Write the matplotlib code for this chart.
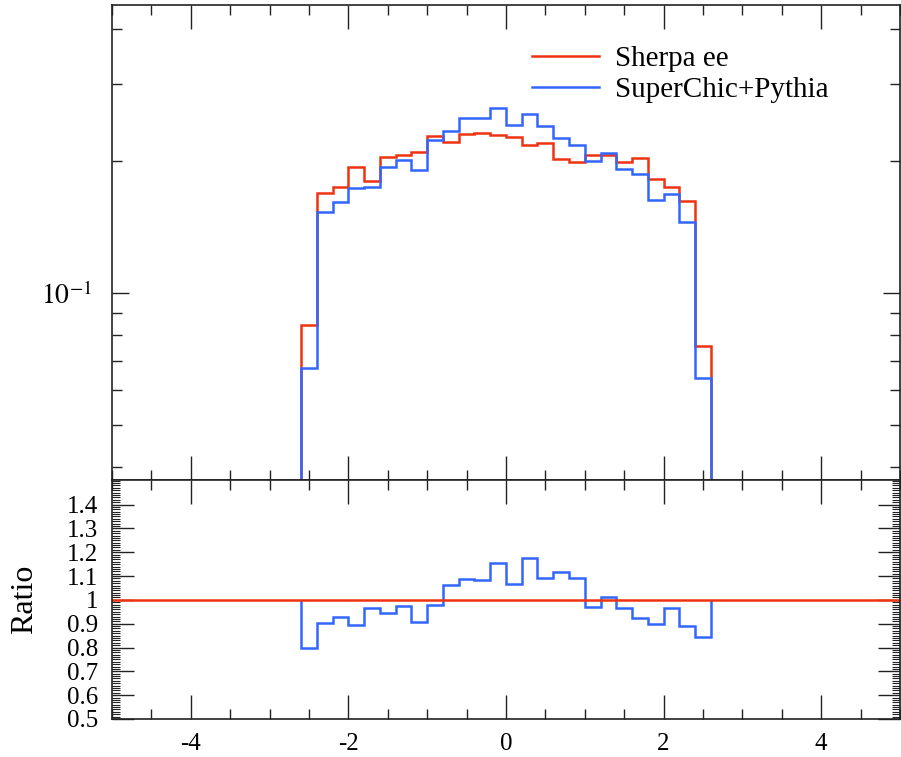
#!/usr/bin/env python3
"""
Rivet-style comparison: Sherpa ee vs SuperChic+Pythia, with ratio panel.
"""

import numpy as np
import matplotlib
matplotlib.use('Agg')
import matplotlib.pyplot as plt
from matplotlib.ticker import MultipleLocator, FixedLocator, FixedFormatter, NullFormatter

# bin edges: 26 bins of width 0.2 from -2.6 to 2.6
bin_edges = np.round(np.arange(-2.6, 2.6001, 0.2), 2)

sherpa_ee = [0.0845, 0.1694, 0.1743, 0.1943, 0.1805, 0.2048, 0.2063, 0.2102,
             0.2287, 0.2209, 0.2307, 0.2315, 0.2295, 0.2271, 0.2177, 0.2204,
             0.2020, 0.1994, 0.2066, 0.2066, 0.1994, 0.2030, 0.1818, 0.1743,
             0.1624, 0.0757]
superchic = [0.0675, 0.1530, 0.1616, 0.1739, 0.1742, 0.1939, 0.2011, 0.1909,
             0.2237, 0.2344, 0.2512, 0.2505, 0.2646, 0.2419, 0.2558, 0.2409,
             0.2258, 0.2173, 0.2006, 0.2087, 0.1922, 0.1872, 0.1634, 0.1680,
             0.1449, 0.0638]

labels = ['Sherpa ee', 'SuperChic+Pythia']
colors = ['#EE3311', '#3366FF']

plt.rcParams['font.family'] = ['Liberation Serif', 'DejaVu Serif']
plt.rcParams['mathtext.fontset'] = 'stix'

fig = plt.figure(figsize=(9.01, 7.57), dpi=100)
ax = fig.add_axes([0.1243, 0.3659, 0.8745, 0.6275])
axr = fig.add_axes([0.1243, 0.0502, 0.8745, 0.3157])

# main panel
for vals, lab, col in zip([sherpa_ee, superchic], labels, colors):
    ax.stairs(vals, bin_edges, baseline=1e-3, color=col, linewidth=1.8, label=lab)

ax.set_yscale('log')
ax.set_xlim(-5, 5)
ax.set_ylim(0.0374, 0.4545)
ax.yaxis.set_major_locator(FixedLocator([0.1]))
ax.yaxis.set_major_formatter(FixedFormatter(['$10^{-1}$']))
ax.yaxis.set_minor_locator(FixedLocator([0.04, 0.05, 0.06, 0.07, 0.08, 0.09,
                                         0.2, 0.3, 0.4]))
ax.yaxis.set_minor_formatter(NullFormatter())

ax.legend(loc='upper left', bbox_to_anchor=(0.533, 0.915), frameon=False,
          fontsize=21, handlelength=2.3, handletextpad=0.55,
          borderpad=0, borderaxespad=0, labelspacing=0.18)

# ratio panel
ratio = np.array(superchic) / np.array(sherpa_ee)
axr.axhline(1.0, color=colors[0], linewidth=1.8)
axr.stairs(ratio, bin_edges, baseline=1.0, color=colors[1], linewidth=1.8)
axr.set_xlim(-5, 5)
axr.set_ylim(0.5, 1.503)
axr.yaxis.set_major_locator(FixedLocator([0.5, 0.6, 0.7, 0.8, 0.9, 1.0,
                                          1.1, 1.2, 1.3, 1.4]))
axr.yaxis.set_major_formatter(FixedFormatter(['0.5', '0.6', '0.7', '0.8', '0.9',
                                              '1', '1.1', '1.2', '1.3', '1.4']))
axr.yaxis.set_minor_locator(MultipleLocator(0.01))
axr.set_ylabel('Ratio', fontsize=23, labelpad=20)

for a in (ax, axr):
    a.xaxis.set_major_locator(MultipleLocator(2))
    a.xaxis.set_minor_locator(MultipleLocator(0.5))
    a.tick_params(which='both', direction='in', top=True, right=True,
                  labelsize=18, width=1.0, color='#222222')
    a.tick_params(axis='x', which='major', length=17, pad=10)
    a.tick_params(axis='x', which='minor', length=7.5)
    for s in a.spines.values():
        s.set_linewidth(1.2)
        s.set_color('#222222')

ax.tick_params(axis='y', which='major', length=12, pad=14, labelsize=20)
ax.tick_params(axis='y', which='minor', length=7.5)
ax.tick_params(axis='x', labelbottom=False)
axr.tick_params(axis='y', which='major', length=16, pad=10)
axr.tick_params(axis='y', which='minor', length=6, width=0.8)
axr.set_xticks([-4, -2, 0, 2, 4])
axr.set_xticklabels(['-4', '-2', '0', '2', '4'])

plt.savefig('out.png', dpi=100)
